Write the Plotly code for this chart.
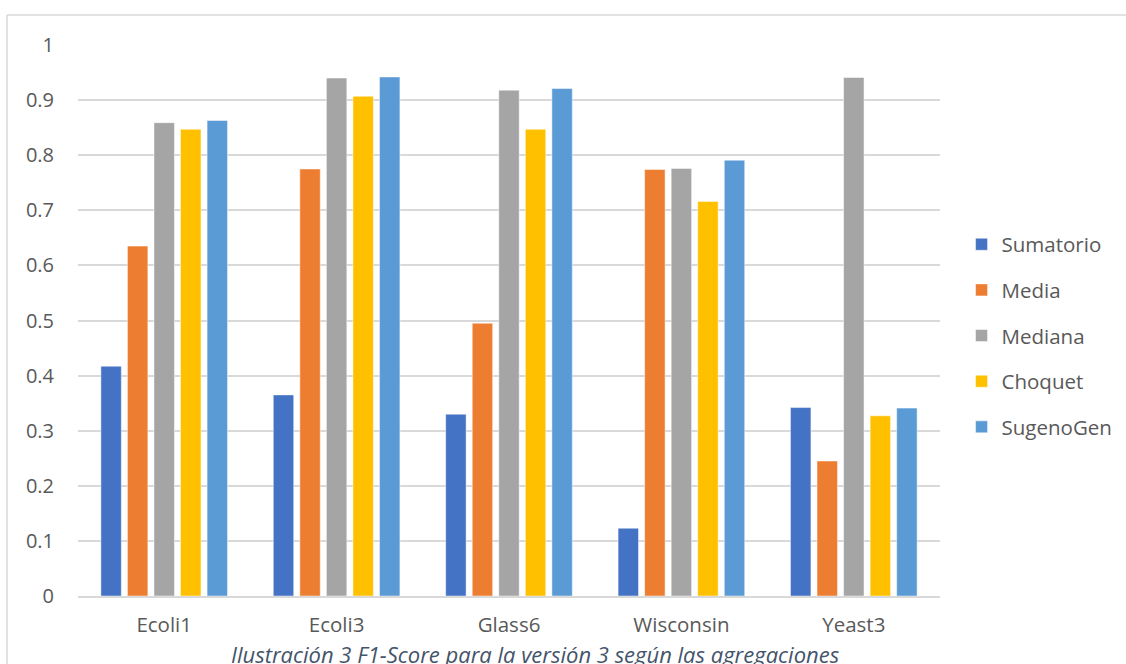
import plotly.graph_objects as go

# F1-Score per dataset for each aggregation method (version 3)
datasets = ["Ecoli1", "Ecoli3", "Glass6", "Wisconsin", "Yeast3"]
sumatorio = [0.417, 0.365, 0.330, 0.123, 0.342]
media = [0.635, 0.775, 0.495, 0.774, 0.245]
mediana = [0.859, 0.940, 0.918, 0.776, 0.941]
choquet = [0.847, 0.907, 0.847, 0.716, 0.327]
sugenogen = [0.863, 0.942, 0.921, 0.791, 0.341]

series_names = ["Sumatorio", "Media", "Mediana", "Choquet", "SugenoGen"]
series_values = [sumatorio, media, mediana, choquet, sugenogen]
series_colors = ["#4472C4", "#ED7D31", "#A5A5A5", "#FFC000", "#5B9BD5"]

y_ticks = [0, 0.1, 0.2, 0.3, 0.4, 0.5, 0.6, 0.7, 0.8, 0.9, 1]
y_tick_text = ["0", "0.1", "0.2", "0.3", "0.4", "0.5", "0.6", "0.7", "0.8", "0.9", "1"]

caption = "Ilustración 3 F1-Score para la versión 3 según las agregaciones"

FONT = "Open Sans"
TEXT_COLOR = "#595959"
GRID = "#D9D9D9"

fig = go.Figure()
for i, (name, vals, color) in enumerate(zip(series_names, series_values, series_colors)):
    fig.add_trace(go.Bar(
        name=name,
        x=datasets,
        y=vals,
        marker=dict(color=color, line=dict(color="rgba(255,255,255,0.6)", width=0.8)),
        legendgroup=f"g{i}",
    ))

fig.update_layout(
    width=1126,
    height=664,
    margin=dict(l=78, r=186, t=45, b=68, autoexpand=False),
    paper_bgcolor="white",
    plot_bgcolor="white",
    barmode="group",
    bargap=0.23,
    bargroupgap=0.23,
    font=dict(family=FONT, size=20, color=TEXT_COLOR),
    legend=dict(
        x=1.025, xanchor="left",
        y=0.472, yanchor="middle",
        traceorder="grouped",
        tracegroupgap=16,
        font=dict(family=FONT, size=20.5, color=TEXT_COLOR),
        bgcolor="rgba(0,0,0,0)",
    ),
    showlegend=True,
)

fig.update_yaxes(
    range=[0, 1],
    tickvals=y_ticks,
    ticktext=y_tick_text,
    showgrid=True,
    gridcolor=GRID,
    gridwidth=1.5,
    zeroline=False,
    showline=False,
    ticks="",
    ticklabelstandoff=23,
    tickfont=dict(family=FONT, size=20, color=TEXT_COLOR),
)
fig.update_xaxes(
    showgrid=False,
    showline=True,
    linecolor=GRID,
    linewidth=1.5,
    ticks="",
    ticklabelstandoff=10,
    tickfont=dict(family=FONT, size=20.5, color=TEXT_COLOR),
)

# Chart frame (top and left edges visible)
fig.add_shape(type="line", xref="paper", yref="paper",
              x0=(7 - 78) / 862, x1=(1130 - 78) / 862,
              y0=(596 - 15) / 551, y1=(596 - 15) / 551,
              line=dict(color="#D9D9D9", width=1.5))
fig.add_shape(type="line", xref="paper", yref="paper",
              x0=(7 - 78) / 862, x1=(7 - 78) / 862,
              y0=(596 - 15) / 551, y1=(596 - 670) / 551,
              line=dict(color="#D9D9D9", width=1.5))

fig.add_annotation(
    text=caption,
    xref="paper", yref="paper",
    x=(535 - 78) / 862, y=(596 - 654) / 551,
    xanchor="center", yanchor="middle",
    showarrow=False,
    font=dict(family=FONT, size=22, color="#44546A", style="italic"),
)

fig.write_html("out.html")
